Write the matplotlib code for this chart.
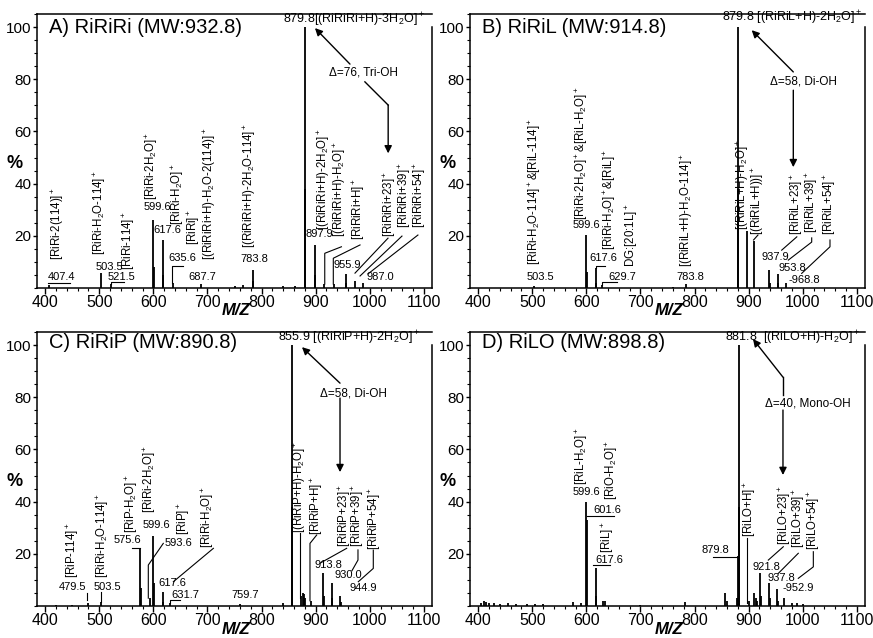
import matplotlib
matplotlib.use('Agg')
import matplotlib.pyplot as plt
from matplotlib.ticker import MultipleLocator

plt.rcParams['font.family'] = ['Liberation Sans', 'DejaVu Sans']
plt.rcParams['mathtext.fontset'] = 'custom'
plt.rcParams['mathtext.rm'] = 'Liberation Sans'
plt.rcParams['mathtext.it'] = 'Liberation Sans:italic'
plt.rcParams['mathtext.bf'] = 'Liberation Sans:bold'

# ---------------- Panel A : RiRiRi ----------------
a_title = 'A) RiRiRi (MW:932.8)'
a_mz = [407.4, 503.5, 521.5, 599.6, 600.6, 617.6, 618.6, 635.6, 687.7, 750.0, 765.0,
        783.8, 784.8, 840.0, 862.0, 879.8, 880.8, 897.9, 898.9, 915.8, 933.8, 955.9,
        956.9, 971.8, 987.0]
a_int = [1.2, 5.7, 1.5, 26.0, 8.0, 18.4, 5.0, 2.0, 1.5, 0.8, 1.0,
         7.0, 2.5, 0.6, 0.8, 100.0, 38.0, 16.5, 5.0, 1.5, 1.5, 5.5,
         2.0, 2.5, 2.0]
a_rot_text = ['[RiRi-2(114)]$^+$', '[RiRi-H$_2$O-114]$^+$', '[RiRi-114]$^+$',
              '[RiRi-2H$_2$O]$^+$', '[RiRi-H$_2$O]$^+$', '[RiRi]$^+$',
              '[(RiRiRi+H)-H$_2$O-2(114)]$^+$', '[(RiRiRi+H)-2H$_2$O-114]$^+$',
              '[(RiRiRi+H)-2H$_2$O]$^+$', '[(RiRiRi+H)-H$_2$O]$^+$', '[RiRiRi+H]$^+$',
              '[RiRiRi+23]$^+$', '[RiRiRi+39]$^+$', '[RiRiRi+54]$^+$']
a_rot_x = [423.8, 501.4, 555.0, 597.5, 645.0, 675.0, 704.7, 778.6, 915.4, 945.0, 980.0,
           1037.0, 1065.0, 1092.8]
a_rot_y = [10.7, 12.6, 6.9, 33.7, 24.1, 16.5, 10.7, 15.3, 22.2, 19.5, 18.4, 19.5, 23.0, 23.0]
a_num_text = ['407.4', '503.5', '521.5', '599.6', '617.6', '635.6', '687.7', '783.8',
              '897.9', '955.9', '987.0']
a_num_x = [431.0, 519.0, 542.0, 607.5, 625.0, 653.0, 690.0, 786.0, 906.0, 958.0, 1019.0]
a_num_y = [4.2, 8.0, 4.2, 31.0, 22.2, 11.5, 4.2, 11.1, 20.7, 8.8, 4.2]
a_leaders = [([405, 446], [2.0, 2.0]),
             ([521.5, 521.5, 546], [1.5, 2.4, 2.4]),
             ([634, 634, 655], [2.0, 8.4, 8.4]),
             ([947.6, 916.8, 916.8], [15.8, 13.3, 1.5]),
             ([982, 932.6, 932.6], [16.5, 11.4, 1.5]),
             ([1033.7, 972.7], [19.1, 5.7]),
             ([1059.5, 982.0], [19.9, 4.6]),
             ([1089.0, 996.7], [20.3, 5.4])]
a_top = ('879.8[(RiRiRi+H)-3H$_2$O]$^+$', 839.6, 102.7)
a_delta = ('Δ=76, Tri-OH', 987.4, 82.7)
a_arrows = [([963.4, 898.7], [85.8, 99.6]),
            ([991.0, 1034.0, 1034.0], [79.0, 70.1, 51.6])]

# ---------------- Panel B : RiRiL ----------------
b_title = 'B) RiRiL (MW:914.8)'
b_mz = [503.5, 599.6, 600.6, 617.6, 618.6, 629.7, 760.0, 783.8, 879.8, 880.8, 896.8,
        909.0, 937.9, 938.9, 953.8, 954.8, 968.8]
b_int = [0.6, 20.3, 6.0, 7.7, 2.0, 1.2, 0.5, 1.5, 100.0, 38.0, 22.0,
         18.0, 7.0, 2.0, 5.5, 2.0, 2.0]
b_rot_text = ['[RiRi-H$_2$O-114]$^+$&[RiL-114]$^+$', '[RiRi-2H$_2$O]$^+$&[RiL-H$_2$O]$^+$',
              '[RiRi-H$_2$O]$^+$&[RiL]$^+$', 'DG:[20:1L]$^+$', '[(RiRiL+H)-H$_2$O-114]$^+$',
              '[(RiRiL+H)-H$_2$O]$^+$', '[(RiRiL+H))]$^+$', '[RiRiL+23]$^+$',
              '[RiRiL+39]$^+$', '[RiRiL+54]$^+$']
b_rot_x = [505.1, 592.0, 643.7, 684.4, 786.0, 889.5, 917.2, 989.3, 1017.0, 1050.3]
b_rot_y = [8.8, 26.0, 14.6, 8.0, 8.0, 22.2, 20.3, 20.3, 21.0, 20.3]
b_num_text = ['503.5', '599.6', '617.6', '629.7', '783.8', '937.9', '953.8', '-968.8']
b_num_x = [514.4, 599.4, 630.8, 665.9, 791.6, 948.6, 980.0, 1002.0]
b_num_y = [4.2, 24.1, 11.5, 4.2, 4.2, 11.9, 7.7, 3.1]
b_leaders = [([617.6, 617.6, 634], [7.7, 8.6, 8.6]),
             ([629.7, 629.7, 656], [1.2, 2.4, 2.4]),
             ([917.2, 909.0], [20.3, 18.4]),
             ([989.0, 961.0], [19.6, 14.5]),
             ([1016.5, 1016.5, 973.3], [19.2, 17.6, 10.7]),
             ([1050.3, 1050.3, 998.0], [18.4, 15.8, 5.6])]
b_top = ('879.8 [(RiRiL+H)-2H$_2$O]$^+$', 850.7, 103.6)
b_delta = ('Δ=58, Di-OH', 1000.5, 79.3)
b_arrows = [([982.5, 905.6], [82.8, 98.8]),
            ([982.5, 982.5], [75.8, 46.3])]

# ---------------- Panel C : RiRiP ----------------
c_title = 'C) RiRiP (MW:890.8)'
c_mz = [420.0, 450.0, 479.5, 503.5, 575.6, 576.6, 593.6, 599.6, 600.6, 617.6, 618.6,
        631.7, 759.7, 840.0, 855.9, 856.9, 873.8, 876.0, 878.0, 880.0, 891.8, 913.8,
        914.8, 930.0, 931.0, 944.9, 946.0]
c_int = [0.5, 0.5, 1.0, 1.5, 22.0, 7.0, 3.0, 27.0, 9.0, 5.3, 1.5,
         1.0, 0.8, 1.2, 100.0, 38.0, 4.0, 5.0, 4.5, 3.0, 2.0, 12.5,
         4.0, 8.7, 3.0, 4.0, 1.5]
c_rot_text = ['[RiP-114]$^+$', '[RiRi-H$_2$O-114]$^+$', '[RiP-H$_2$O]$^+$',
              '[RiRi-2H$_2$O]$^+$', '[RiP]$^+$', '[RiRi-H$_2$O]$^+$',
              '[(RiRiP+H)-H$_2$O]$^+$', '[RiRiP+H]$^+$', '[RiRiP+23]$^+$',
              '[RiRiP+39]$^+$', '[RiRiP+54]$^+$']
c_rot_x = [451.5, 507.0, 560.6, 593.8, 656.7, 701.0, 871.0, 902.4, 953.0, 978.2, 1009.6]
c_rot_y = [10.7, 10.7, 28.0, 35.6, 27.2, 22.2, 28.0, 27.2, 22.6, 22.6, 21.4]
c_num_text = ['479.5', '503.5', '575.6', '599.6', '593.6', '617.6', '631.7', '759.7',
              '913.8', '930.0', '944.9']
c_num_x = [449.7, 514.4, 551.3, 605.0, 645.6, 634.5, 658.5, 769.4, 922.8, 959.7, 987.4]
c_num_y = [7.3, 7.3, 25.3, 31.0, 24.1, 8.8, 4.2, 4.2, 15.7, 11.9, 6.9]
c_leaders = [([476.8, 476.8], [2.3, 5.1]),
             ([503.5, 503.5], [1.6, 5.5]),
             ([560.6, 575.6], [22.2, 22.2]),
             ([618.4, 590.7, 590.7], [24.0, 15.7, 3.0]),
             ([711.0, 637.0], [22.1, 9.3]),
             ([631.7, 631.7, 650.0], [1.0, 2.4, 2.4]),
             ([871.0, 871.0], [28.0, 3.0]),
             ([901.9, 889.5, 889.5], [27.2, 24.0, 2.0]),
             ([957.3, 908.0], [22.1, 16.4]),
             ([978.2, 978.2, 967.0], [21.5, 17.6, 13.5]),
             ([1006.5, 1006.5, 978.8], [21.4, 14.4, 9.3])]
c_top = ('855.9 [(RiRiP+H)-2H$_2$O]$^+$', 830.4, 102.7)
c_delta = ('Δ=58, Di-OH', 969.0, 81.6)
c_arrows = [([945.0, 874.7], [85.4, 99.2]),
            ([945.0, 945.0], [79.7, 51.3])]

# ---------------- Panel D : RiLO ----------------
d_title = 'D) RiLO (MW:898.8)'
d_mz = [405, 410, 415, 420, 430, 440, 455, 470, 490, 505, 520, 575, 590, 599.6, 600.6,
        617.6, 618.6, 630, 634, 700, 782, 856, 860, 878, 879.8, 881.8, 882.8, 899.8,
        910, 913, 916, 921.8, 922.8, 937.8, 938.8, 952.9, 953.9, 966, 980, 990, 1000]
d_int = [1.2, 2.0, 1.5, 1.2, 1.0, 0.8, 1.0, 0.8, 0.7, 0.7, 0.6, 1.5, 1.0, 40.0, 33.0,
         14.5, 4.0, 2.0, 2.0, 0.5, 1.5, 5.0, 2.0, 3.0, 19.0, 100.0, 38.0, 2.0,
         5.0, 3.0, 2.0, 12.5, 4.0, 9.0, 3.0, 6.5, 2.0, 3.0, 1.0, 1.0, 0.7]
d_rot_text = ['[RiL-H$_2$O]$^+$', '[RiO-H$_2$O]$^+$', '[RiL]$^+$', '[RiLO+H]$^+$',
              '[RiLO+23]$^+$', '[RiLO+39]$^+$', '[RiLO+54]$^+$']
d_rot_x = [592.0, 647.4, 640.0, 902.4, 966.0, 992.0, 1019.5]
d_rot_y = [46.3, 40.6, 20.3, 26.4, 23.4, 22.2, 21.4]
d_num_text = ['599.6', '601.6', '617.6', '879.8', '921.8', '937.8', '-952.9']
d_num_x = [599.4, 638.2, 641.9, 837.8, 932.0, 959.7, 991.0]
d_num_y = [43.7, 36.8, 17.6, 21.4, 14.9, 10.7, 6.9]
d_leaders = [([600.6, 652.0], [34.5, 34.5]),
             ([612.9, 643.7], [15.7, 15.7]),
             ([834.6, 877.8], [18.9, 18.9]),
             ([896.4, 896.4], [26.0, 1.2]),
             ([964.0, 936.3], [22.7, 17.6]),
             ([991.7, 954.8], [20.2, 12.5]),
             ([1019.5, 1019.5, 991.7], [20.8, 15.0, 10.6])]
d_top = ('881.8  [(RiLO+H)-H$_2$O]$^+$', 856.2, 102.7)
d_delta = ('Δ=40, Mono-OH', 1009.6, 77.7)
d_arrows = [([963.4, 963.4, 908.0], [80.8, 87.7, 102.3]),
            ([963.4, 963.4], [75.1, 50.2])]

x_ticks = [400, 500, 600, 700, 800, 900, 1000, 1100]
y_ticks = [20, 40, 60, 80, 100]

panels = [
    (a_title, a_mz, a_int, a_rot_text, a_rot_x, a_rot_y, a_num_text, a_num_x, a_num_y,
     a_leaders, a_top, a_delta, a_arrows, (37, 432, 288, 14)),
    (b_title, b_mz, b_int, b_rot_text, b_rot_x, b_rot_y, b_num_text, b_num_x, b_num_y,
     b_leaders, b_top, b_delta, b_arrows, (470, 865, 288, 14)),
    (c_title, c_mz, c_int, c_rot_text, c_rot_x, c_rot_y, c_num_text, c_num_x, c_num_y,
     c_leaders, c_top, c_delta, c_arrows, (37, 432, 606, 332)),
    (d_title, d_mz, d_int, d_rot_text, d_rot_x, d_rot_y, d_num_text, d_num_x, d_num_y,
     d_leaders, d_top, d_delta, d_arrows, (470, 865, 606, 332)),
]

W, H = 873, 638
fig = plt.figure(figsize=(W / 100, H / 100), dpi=100)

for (title, mz, inten, rtxt, rx, ry, ntxt, nx, ny, leaders, top, delta, arrows,
     (l, r, b, t)) in panels:
    ax = fig.add_axes([l / W, 1 - b / H, (r - l) / W, (b - t) / H])
    ax.set_xlim(385, 1115)
    ax.set_ylim(0, 105)
    ax.vlines(mz, 0, inten, colors='black', linewidth=1.3)
    for s, x, y in zip(rtxt, rx, ry):
        ax.text(x, y, s, rotation=90, ha='center', va='bottom', fontsize=8.3)
    for s, x, y in zip(ntxt, nx, ny):
        ax.text(x, y, s, ha='center', va='center', fontsize=8)
    for xs, ys in leaders:
        ax.plot(xs, ys, color='black', lw=0.8)
    ax.text(top[1], top[2], top[0], ha='left', va='center', fontsize=9)
    ax.text(delta[1], delta[2], delta[0], ha='center', va='center', fontsize=8.5)
    for xs, ys in arrows:
        if len(xs) > 2:
            ax.plot(xs[:-1], ys[:-1], color='black', lw=1.0)
        ax.annotate('', xy=(xs[-1], ys[-1]), xytext=(xs[-2], ys[-2]),
                    arrowprops=dict(arrowstyle='-|>', color='black', lw=1.0,
                                    mutation_scale=11, shrinkA=0, shrinkB=0))
    ax.text(0.03, 100 if t == 14 else 101.1, title, transform=ax.get_yaxis_transform(),
            ha='left', va='center', fontsize=14.5)
    ax.set_xticks(x_ticks)
    ax.set_yticks(y_ticks)
    ax.xaxis.set_minor_locator(MultipleLocator(20))
    ax.yaxis.set_minor_locator(MultipleLocator(5))
    ax.tick_params(axis='x', which='major', labelsize=11.5, length=4, width=1, pad=1)
    ax.tick_params(axis='y', which='major', labelsize=11, length=3, width=1, pad=1)
    ax.tick_params(which='minor', length=2, width=0.8)
    for sp in ax.spines.values():
        sp.set_linewidth(1.1)
    ax.spines['right'].set_bounds(0, 100)
    # axis labels
    fig.text((l - 22) / W, 1 - (b - 125) / H, '%', ha='center', va='center',
             fontsize=13, fontweight='bold')
    fig.text(((l + r) / 2 + 2) / W, 1 - (b + 23) / H, 'M/Z', ha='center', va='center',
             fontsize=12, fontweight='bold', fontstyle='italic')

fig.savefig('out.png', dpi=100)
